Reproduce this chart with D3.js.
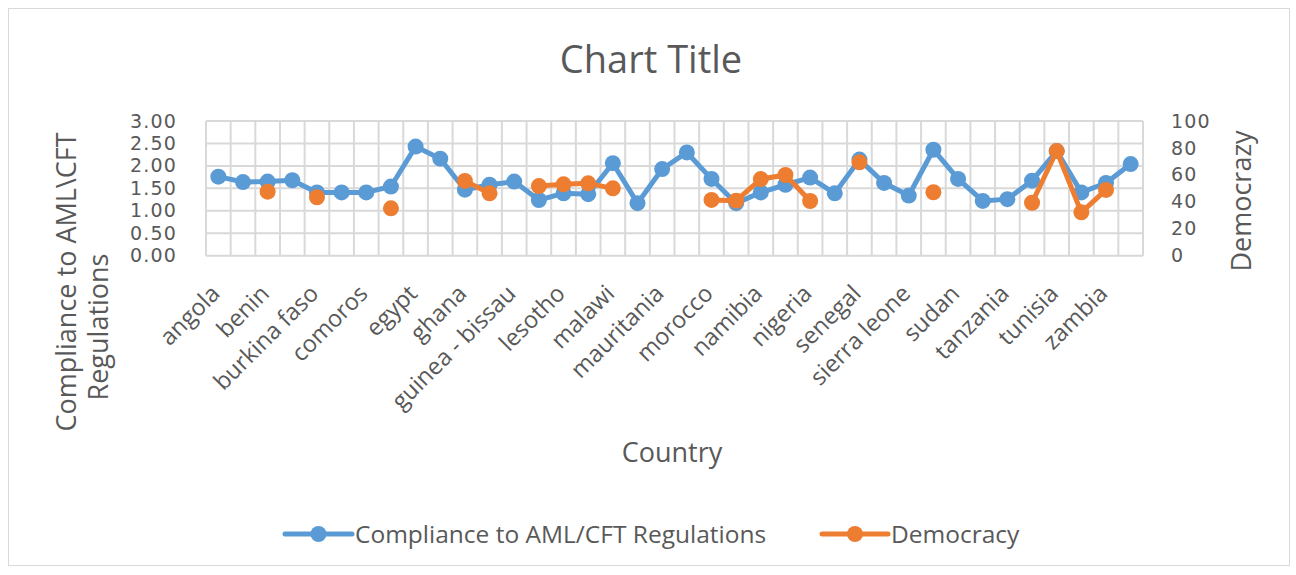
<!DOCTYPE html>
<html><head><meta charset="utf-8">
<script src="https://cdn.jsdelivr.net/npm/d3@7"></script>
<style>body{margin:0;background:#fff}svg{display:block}text{font-family:"Open Sans",sans-serif;fill:#595959}</style>
</head><body><svg id="c" width="1296" height="575"></svg>
<script>
const categories = ["angola","algeria","benin","botswana","burkina faso","cameroon","comoros","cote d'ivoire","egypt","ethiopia","ghana","guinea","guinea - bissau","kenya","lesotho","madagascar","malawi","mali","mauritania","mauritius","morocco","mozambique","namibia","niger","nigeria","rwanda","senegal","seychelles","sierra leone","south africa","sudan","swaziland","tanzania","togo","tunisia","uganda","zambia","zimbabwe"];
const compliance = [1.76,1.64,1.65,1.68,1.41,1.41,1.41,1.54,2.43,2.16,1.47,1.58,1.65,1.24,1.39,1.37,2.06,1.17,1.93,2.30,1.71,1.17,1.41,1.58,1.74,1.39,2.14,1.62,1.34,2.36,1.71,1.22,1.26,1.67,2.33,1.41,1.62,2.04];
const democracy = [null,null,47.5,null,43.4,null,null,35.2,null,null,55.5,46.3,null,51.7,53,53.7,50,null,null,null,41.4,40.8,56.9,59.9,40.6,null,69.3,null,null,47.1,null,null,null,39.3,77.7,32.2,48.8,null];
const leftTicks = [0,0.5,1,1.5,2,2.5,3];
const rightTicks = [0,20,40,60,80,100];
const seriesNames = ["Compliance to AML/CFT Regulations","Democracy"];
const colors = ["#5B9BD5","#ED7D31"];

const svg = d3.select("#c");
svg.append("rect").attr("x",8.5).attr("y",8.5).attr("width",1281).attr("height",557).attr("fill","#fff").attr("stroke","#d9d9d9");

const L=206,R=1143,T=121,B=255.7;
const x = d3.scaleBand().domain(categories).range([L,R]).padding(0);
const yL = d3.scaleLinear().domain([0,3]).range([B,T]);
const yR = d3.scaleLinear().domain([0,100]).range([B,T]);

const grid = svg.append("g").attr("stroke","#d9d9d9").attr("stroke-width",2);
leftTicks.forEach(v=>grid.append("line").attr("x1",L).attr("x2",R).attr("y1",yL(v)).attr("y2",yL(v)));
categories.forEach(c=>grid.append("line").attr("x1",x(c)).attr("x2",x(c)).attr("y1",T).attr("y2",B));
grid.append("line").attr("x1",R).attr("x2",R).attr("y1",T).attr("y2",B);

// left axis
const gl = svg.append("g").attr("transform",`translate(${L-29},0)`)
  .call(d3.axisLeft(yL).tickValues(leftTicks).tickFormat(d3.format(".2f")).tickSize(0));
gl.select(".domain").remove();
gl.selectAll("text").style("font-size","19px").style("font-family","'DejaVu Sans'").style("letter-spacing","1.2px").attr("fill","#595959").attr("x",0);

const gr = svg.append("g").attr("transform",`translate(${R+28},0)`)
  .call(d3.axisRight(yR).tickValues(rightTicks).tickSize(0));
gr.select(".domain").remove();
gr.selectAll("text").style("font-size","19px").style("font-family","'DejaVu Sans'").style("letter-spacing","1.2px").attr("fill","#595959").attr("x",0);

// x labels
const gx = svg.append("g");
categories.forEach((c,i)=>{
  if(i%2) return;
  const cx = x(c)+x.bandwidth()/2;
  gx.append("text").attr("transform",`translate(${cx+3},${295}) rotate(-45)`)
    .attr("text-anchor","end").style("font-size","23.5px").text(c);
});

// lines
const cx = d => x(d)+x.bandwidth()/2;
const line1 = d3.line().x((d,i)=>cx(categories[i])).y(d=>yL(d));
svg.append("path").datum(compliance).attr("d",line1).attr("fill","none").attr("stroke",colors[0]).attr("stroke-width",5).attr("stroke-linejoin","round");
svg.append("g").selectAll("circle").data(compliance).join("circle")
  .attr("cx",(d,i)=>cx(categories[i])).attr("cy",d=>yL(d)).attr("r",8).attr("fill",colors[0]);

const line2 = d3.line().defined(d=>d!==null).x((d,i)=>cx(categories[i])).y(d=>yR(d));
svg.append("path").datum(democracy).attr("d",line2).attr("fill","none").attr("stroke",colors[1]).attr("stroke-width",5).attr("stroke-linejoin","round");
svg.append("g").selectAll("circle").data(democracy.map((d,i)=>({d,i})).filter(o=>o.d!==null)).join("circle")
  .attr("cx",o=>cx(categories[o.i])).attr("cy",o=>yR(o.d)).attr("r",8).attr("fill",colors[1]);

// titles
svg.append("text").attr("x",651).attr("y",73).attr("text-anchor","middle").style("font-size","38px").text("Chart Title");
svg.append("text").attr("x",672).attr("y",462).attr("text-anchor","middle").style("font-size","27px").text("Country");
svg.append("text").attr("transform","translate(76,282) rotate(-90)").attr("text-anchor","middle").style("font-size","27px").text("Compliance  to AML\\CFT");
svg.append("text").attr("transform","translate(108,327) rotate(-90)").attr("text-anchor","middle").style("font-size","27px").text("Regulations");
svg.append("text").attr("transform","translate(1251,201) rotate(-90)").attr("text-anchor","middle").style("font-size","27px").text("Democrazy");

// legend
const leg = [{x:285,w:67,t:seriesNames[0],c:colors[0]},{x:822,w:66,t:seriesNames[1],c:colors[1]}];
leg.forEach(o=>{
  svg.append("line").attr("x1",o.x).attr("x2",o.x+o.w).attr("y1",534).attr("y2",534).attr("stroke",o.c).attr("stroke-width",5).attr("stroke-linecap","round");
  svg.append("circle").attr("cx",o.x+o.w/2).attr("cy",534).attr("r",8).attr("fill",o.c);
  svg.append("text").attr("x",o.x+o.w+3).attr("y",534).attr("dy","0.35em").style("font-size","24.5px").text(o.t);
});
</script></body></html>
